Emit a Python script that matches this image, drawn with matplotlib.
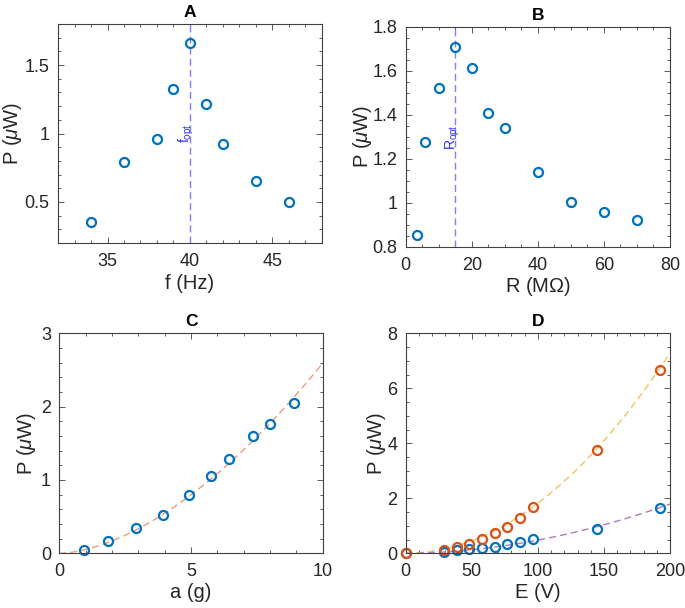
import numpy as np
import matplotlib
matplotlib.use("Agg")
import matplotlib.pyplot as plt
from matplotlib.ticker import MultipleLocator

plt.rcParams['font.family'] = ['Liberation Sans', 'DejaVu Sans']
plt.rcParams['mathtext.fontset'] = 'custom'
plt.rcParams['mathtext.it'] = 'Liberation Sans:italic'
plt.rcParams['mathtext.rm'] = 'Liberation Sans'

# ---- data ----
f_hz = [34, 36, 38, 39, 40, 41, 42, 44, 46]
P_f = [0.353, 0.793, 0.96, 1.322, 1.664, 1.219, 0.922, 0.652, 0.502]
f_opt = 40

R_mohm = [3.5, 5.8, 10, 15, 20, 25, 30, 40, 50, 60, 70]
P_R = [0.854, 1.278, 1.52, 1.708, 1.612, 1.41, 1.339, 1.14, 1.006, 0.96, 0.924]
R_opt = 15

a_g = [0.94, 1.86, 2.9, 3.95, 4.91, 5.77, 6.46, 7.37, 7.99, 8.9]
P_a = [0.045, 0.17, 0.34, 0.52, 0.79, 1.06, 1.29, 1.60, 1.76, 2.05]
fitC_coef, fitC_exp = 0.0517, 1.7

E_V = [0, 28.9, 38.5, 48.2, 57.8, 67.4, 77.0, 86.7, 96.3, 144.5, 192.6]
P_E_orange = [0.0, 0.12, 0.22, 0.35, 0.52, 0.72, 0.96, 1.28, 1.70, 3.75, 6.67]
P_E_blue = [0.0, 0.05, 0.12, 0.15, 0.18, 0.24, 0.33, 0.42, 0.51, 0.88, 1.66]
fitD_orange = (1.82e-4, 2.0)
fitD_blue = (7.6e-5, 1.9)

BLUE = '#0072BD'
ORANGE = '#D95319'
TXT = '#262626'

fig = plt.figure(figsize=(6.85, 6.08), dpi=100)

def style(ax, xmaj, xmin, ymaj, ymin):
    ax.xaxis.set_major_locator(MultipleLocator(xmaj))
    ax.xaxis.set_minor_locator(MultipleLocator(xmin))
    ax.yaxis.set_major_locator(MultipleLocator(ymaj))
    ax.yaxis.set_minor_locator(MultipleLocator(ymin))
    ax.tick_params(which='both', direction='in', top=True, right=True,
                   colors='#404040', labelcolor=TXT, labelsize=13, width=0.6)
    ax.tick_params(which='major', length=4, pad=6)
    ax.tick_params(axis='x', which='major', pad=7)
    ax.tick_params(which='minor', length=2)
    for s in ax.spines.values():
        s.set_color('#404040')
        s.set_linewidth(0.8)

def labels(ax, xl, yl, title, xc, yc):
    ax.set_xlabel(xl, fontsize=14.5, color=TXT)
    ax.set_ylabel(yl, fontsize=14.5, color=TXT)
    ax.xaxis.set_label_coords(0.5, xc)
    ax.yaxis.set_label_coords(yc, 0.5)
    ax.xaxis.label.set_va('center')
    ax.yaxis.label.set_va('center')
    ax.set_title(title, fontsize=12.5, fontweight='bold', color='black', pad=5)

mk = dict(ls='none', marker='o', mfc='none', ms=6.5, mew=1.6)

# A
axA = fig.add_axes([0.0847, 0.6003, 0.3853, 0.3602])
axA.axvline(f_opt, color='#7f7fff', ls='--', lw=1, dashes=(5, 3))
axA.plot(f_hz, P_f, color=BLUE, **mk)
axA.set_xlim(32, 48)
axA.set_ylim(0.2, 1.8)
style(axA, 5, 1, 0.5, 0.1)
axA.set_yticks([0.5, 1, 1.5])
axA.set_yticklabels(['0.5', '1', '1.5'])
axA.text(f_opt, 0.93, r'f$_{\mathrm{opt}}$', rotation=90, rotation_mode='anchor',
         ha='left', va='baseline', color='#3030ff', fontsize=10)
labels(axA, 'f (Hz)', r'P ($\mu$W)', 'A', -0.185, -0.174)

# B
axB = fig.add_axes([0.5923, 0.5938, 0.3858, 0.3623])
axB.axvline(R_opt, color='#7f7fff', ls='--', lw=1, dashes=(5, 3))
axB.plot(R_mohm, P_R, color=BLUE, **mk)
axB.set_xlim(0, 80)
axB.set_ylim(0.8, 1.8)
style(axB, 20, 5, 0.2, 0.05)
axB.set_yticks([0.8, 1.0, 1.2, 1.4, 1.6, 1.8])
axB.set_yticklabels(['0.8', '1', '1.2', '1.4', '1.6', '1.8'])
axB.text(R_opt, 1.24, r'R$_{\mathrm{opt}}$', rotation=90, rotation_mode='anchor',
         ha='left', va='baseline', color='#3030ff', fontsize=10)
labels(axB, r'R (M$\Omega$)', r'P ($\mu$W)', 'B', -0.18, -0.165)

# C
axC = fig.add_axes([0.0866, 0.0900, 0.3845, 0.3618])
xa = np.linspace(0, 10, 200)
axC.plot(xa, fitC_coef * xa ** fitC_exp, color='#ee9a7a', lw=1, dashes=(5, 3))
axC.plot(a_g, P_a, color=BLUE, **mk)
axC.set_xlim(0, 10)
axC.set_ylim(0, 3)
style(axC, 5, 1, 1, 0.2)
labels(axC, 'a (g)', r'P ($\mu$W)', 'C', -0.18, -0.123)

# D
axD = fig.add_axes([0.5923, 0.0900, 0.3858, 0.3618])
xe = np.linspace(0, 200, 300)
axD.plot(xe, fitD_orange[0] * xe ** fitD_orange[1], color='#f5c25e', lw=1, dashes=(5, 3))
axD.plot(xe, fitD_blue[0] * xe ** fitD_blue[1], color='#b27ac0', lw=1, dashes=(5, 3))
axD.plot(E_V, P_E_blue, color=BLUE, **mk)
axD.plot(E_V, P_E_orange, color=ORANGE, **mk)
axD.set_xlim(0, 200)
axD.set_ylim(0, 8)
style(axD, 50, 10, 2, 0.5)
labels(axD, 'E (V)', r'P ($\mu$W)', 'D', -0.18, -0.112)

for ax in (axA, axB, axC, axD):
    for l in ax.get_lines():
        if l.get_marker() == 'o':
            l.set_clip_on(False)

fig.savefig('out.png', dpi=100)
